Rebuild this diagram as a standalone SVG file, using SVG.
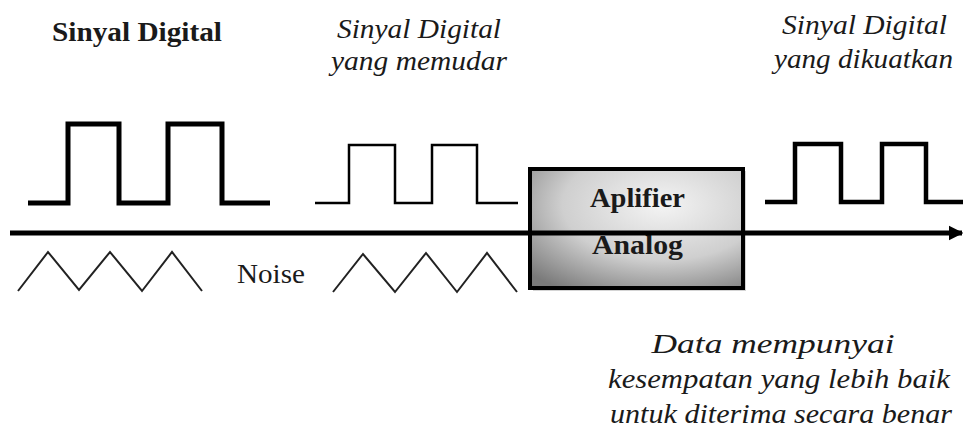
<svg xmlns="http://www.w3.org/2000/svg" width="963" height="441" viewBox="0 0 963 441">
<defs>
<style>
.sig{fill:none;stroke:#000;stroke-linejoin:miter;stroke-linecap:butt}
.noise{fill:none;stroke:#222;stroke-width:2}
text{font-family:'Liberation Serif','Times New Roman','DejaVu Serif',serif;fill:#1a1a1a}
.it{font-style:italic;font-size:27px}
.bold{font-weight:bold}
</style>
<radialGradient id="boxg" cx="0.62" cy="0.3" r="0.85">
<stop offset="0" stop-color="#f4f4f4"/>
<stop offset="0.55" stop-color="#cfcfcf"/>
<stop offset="1" stop-color="#7a7a7a"/>
</radialGradient>
<marker id="arr" viewBox="0 0 10 10" refX="9" refY="5" markerWidth="3" markerHeight="3.4" orient="auto" markerUnits="strokeWidth">
<path d="M0,0 L10,5 L0,10 z" fill="#000"/>
</marker>
</defs>
<rect width="963" height="441" fill="#fff"/>

<g id="title1">
<text class="bold" x="52" y="41" font-size="28" textLength="170" lengthAdjust="spacingAndGlyphs">Sinyal Digital</text>
</g>
<g id="title2">
<text class="it" x="337" y="38" textLength="164" lengthAdjust="spacingAndGlyphs">Sinyal Digital</text>
<text class="it" x="331" y="70" textLength="176" lengthAdjust="spacingAndGlyphs">yang memudar</text>
</g>
<g id="title3">
<text class="it" x="782" y="34" textLength="165" lengthAdjust="spacingAndGlyphs">Sinyal Digital</text>
<text class="it" x="774" y="68" textLength="179" lengthAdjust="spacingAndGlyphs">yang dikuatkan</text>
</g>

<g id="signal1">
<path class="sig" stroke-width="5" d="M28,203 H68 V124 H119 V203 H168 V124 H222 V203 H270"/>
</g>
<g id="signal2">
<path class="sig" stroke-width="2.5" d="M315,203 H349 V145 H395 V203 H432 V145 H477 V203 H518"/>
</g>
<g id="signal3">
<path class="sig" stroke-width="4.5" d="M765,202 H795 V144 H841 V202 H882 V144 H926 V202 H963"/>
</g>

<g id="noise1">
<path class="noise" d="M18,291 L48,252 L79,290 L110,252 L142,291 L172,252 L202,291"/>
</g>
<g id="noise-label">
<text x="237" y="283" font-size="27" textLength="68" lengthAdjust="spacingAndGlyphs">Noise</text>
</g>
<g id="noise2">
<path class="noise" d="M333,292 L363,254 L395,292 L426,253 L457,292 L487,253 L517,292"/>
</g>

<g id="amplifier">
<rect x="533" y="171" width="213" height="120" fill="#aaa" opacity="0.5"/>
<rect x="530" y="169" width="213" height="119" fill="url(#boxg)" stroke="#000" stroke-width="4"/>
<text class="bold" x="590" y="207" font-size="27" textLength="95" lengthAdjust="spacingAndGlyphs">Aplifier</text>
<text class="bold" x="592" y="254" font-size="27" textLength="91" lengthAdjust="spacingAndGlyphs">Analog</text>
</g>

<g id="connectors">
<line x1="10" y1="233" x2="962" y2="233" stroke="#000" stroke-width="5" marker-end="url(#arr)"/>
</g>

<g id="note">
<text class="it" x="773" y="353" text-anchor="middle" textLength="243" lengthAdjust="spacingAndGlyphs">Data mempunyai</text>
<text class="it" x="779" y="388" text-anchor="middle" textLength="342" lengthAdjust="spacingAndGlyphs">kesempatan yang lebih baik</text>
<text class="it" x="781" y="423" text-anchor="middle" textLength="342" lengthAdjust="spacingAndGlyphs">untuk diterima secara benar</text>
</g>
</svg>
